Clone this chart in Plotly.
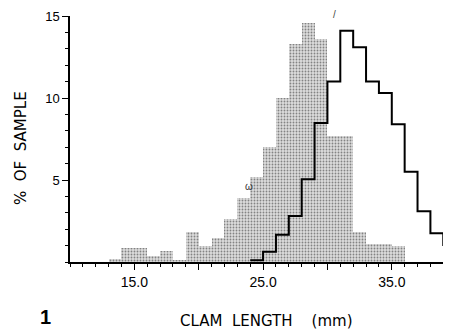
import plotly.graph_objects as go

# Shaded histogram (1 mm bins, left edges in mm) -- % of sample
shaded_left = [13, 14, 15, 16, 17, 18, 19, 20, 21, 22, 23, 24, 25, 26, 27, 28, 29, 30, 31, 32, 33, 34, 35]
shaded_pct = [0.2, 0.85, 0.85, 0.35, 0.7, 0.15, 1.8, 1.0, 1.45, 2.6, 3.9, 5.2, 7.0, 10.0, 13.3, 14.6, 13.6, 7.7, 7.7, 1.8, 1.1, 1.1, 1.0]

# Outlined (step) histogram
step_left = [24, 25, 26, 27, 28, 29, 30, 31, 32, 33, 34, 35, 36, 37, 38, 39]
step_pct = [0.1, 0.63, 1.66, 2.81, 5.05, 8.47, 11.0, 14.1, 13.1, 11.0, 10.3, 8.4, 5.5, 3.1, 1.75, 1.03]

x_major = [15, 20, 25, 30, 35]
x_labels = ["15.0", "", "25.0", "", "35.0"]
y_major = [5, 10, 15]
y_labels = ["5", "10", "15"]

FONT = "Liberation Sans"
TFONT = "DejaVu Sans"

# page body has an 8px default margin: figure spans page px 8..451 x 8..332
W, H = 443, 324
L, T, B = 62, 8, 70
PW, PH = W - L, H - T - B


def px(xp):
    return (xp - 8 - L) / PW


def py(yp):
    return (H - B - (yp - 8)) / PH


fig = go.Figure()
fig.add_trace(go.Bar(
    x=[v + 0.5 for v in shaded_left], y=shaded_pct, width=1.0,
    marker=dict(color="#c8c8c8", line=dict(width=0),
                pattern=dict(shape=".", fgcolor="#2a2a2a", bgcolor="#dcdcdc", size=3, solidity=0.3)),
    showlegend=False, hoverinfo="skip"))

fig.add_trace(go.Scatter(
    x=step_left + [step_left[-1] + 1], y=step_pct + [step_pct[-1]],
    mode="lines", line=dict(color="black", width=2, shape="hv"),
    showlegend=False, hoverinfo="skip"))

fig.update_layout(
    width=W, height=H,
    margin=dict(l=L, r=0, t=T, b=B),
    paper_bgcolor="white", plot_bgcolor="white",
    bargap=0,
    font=dict(family=FONT, color="black", size=12),
    xaxis=dict(range=[10, 39.6], showgrid=False, zeroline=False,
               showline=True, linecolor="black", linewidth=1.5,
               tickmode="array", tickvals=x_major, ticktext=x_labels,
               ticks="outside", ticklen=6, tickwidth=1.2, tickcolor="black",
               tickfont=dict(family=FONT, size=14),
               minor=dict(dtick=1, ticks="outside", ticklen=3, tickcolor="black", tickwidth=1)),
    yaxis=dict(range=[0, 15], showgrid=False, zeroline=False,
               showline=True, linecolor="black", linewidth=1.5,
               tickmode="array", tickvals=y_major, ticktext=y_labels,
               ticks="outside", ticklen=6, tickwidth=1.2, tickcolor="black",
               tickfont=dict(family=FONT, size=13), ticklabeloverflow="allow",
               minor=dict(dtick=1, ticks="outside", ticklen=3, tickcolor="black", tickwidth=1)),
    annotations=[
        dict(text="%  OF  SAMPLE", xref="paper", yref="paper", x=px(21), y=py(148),
             textangle=-90, showarrow=False, font=dict(family=TFONT, size=15),
             xanchor="center", yanchor="middle"),
        dict(text="CLAM  LENGTH    (mm)", xref="paper", yref="paper", x=px(266), y=py(321),
             showarrow=False, font=dict(family=TFONT, size=15),
             xanchor="center", yanchor="middle"),
        dict(text="<b>1</b>", xref="paper", yref="paper", x=px(45), y=py(317),
             showarrow=False, font=dict(family=FONT, size=20),
             xanchor="center", yanchor="middle"),
        dict(text="ω", xref="paper", yref="paper", x=px(249), y=py(186),
             showarrow=False, font=dict(family=FONT, size=10, color="#333"),
             xanchor="center", yanchor="middle"),
        dict(text="/", xref="paper", yref="paper", x=px(334), y=py(14),
             showarrow=False, font=dict(family=FONT, size=10, color="#444"),
             xanchor="center", yanchor="middle"),
    ],
)

fig.write_html("out.html")
